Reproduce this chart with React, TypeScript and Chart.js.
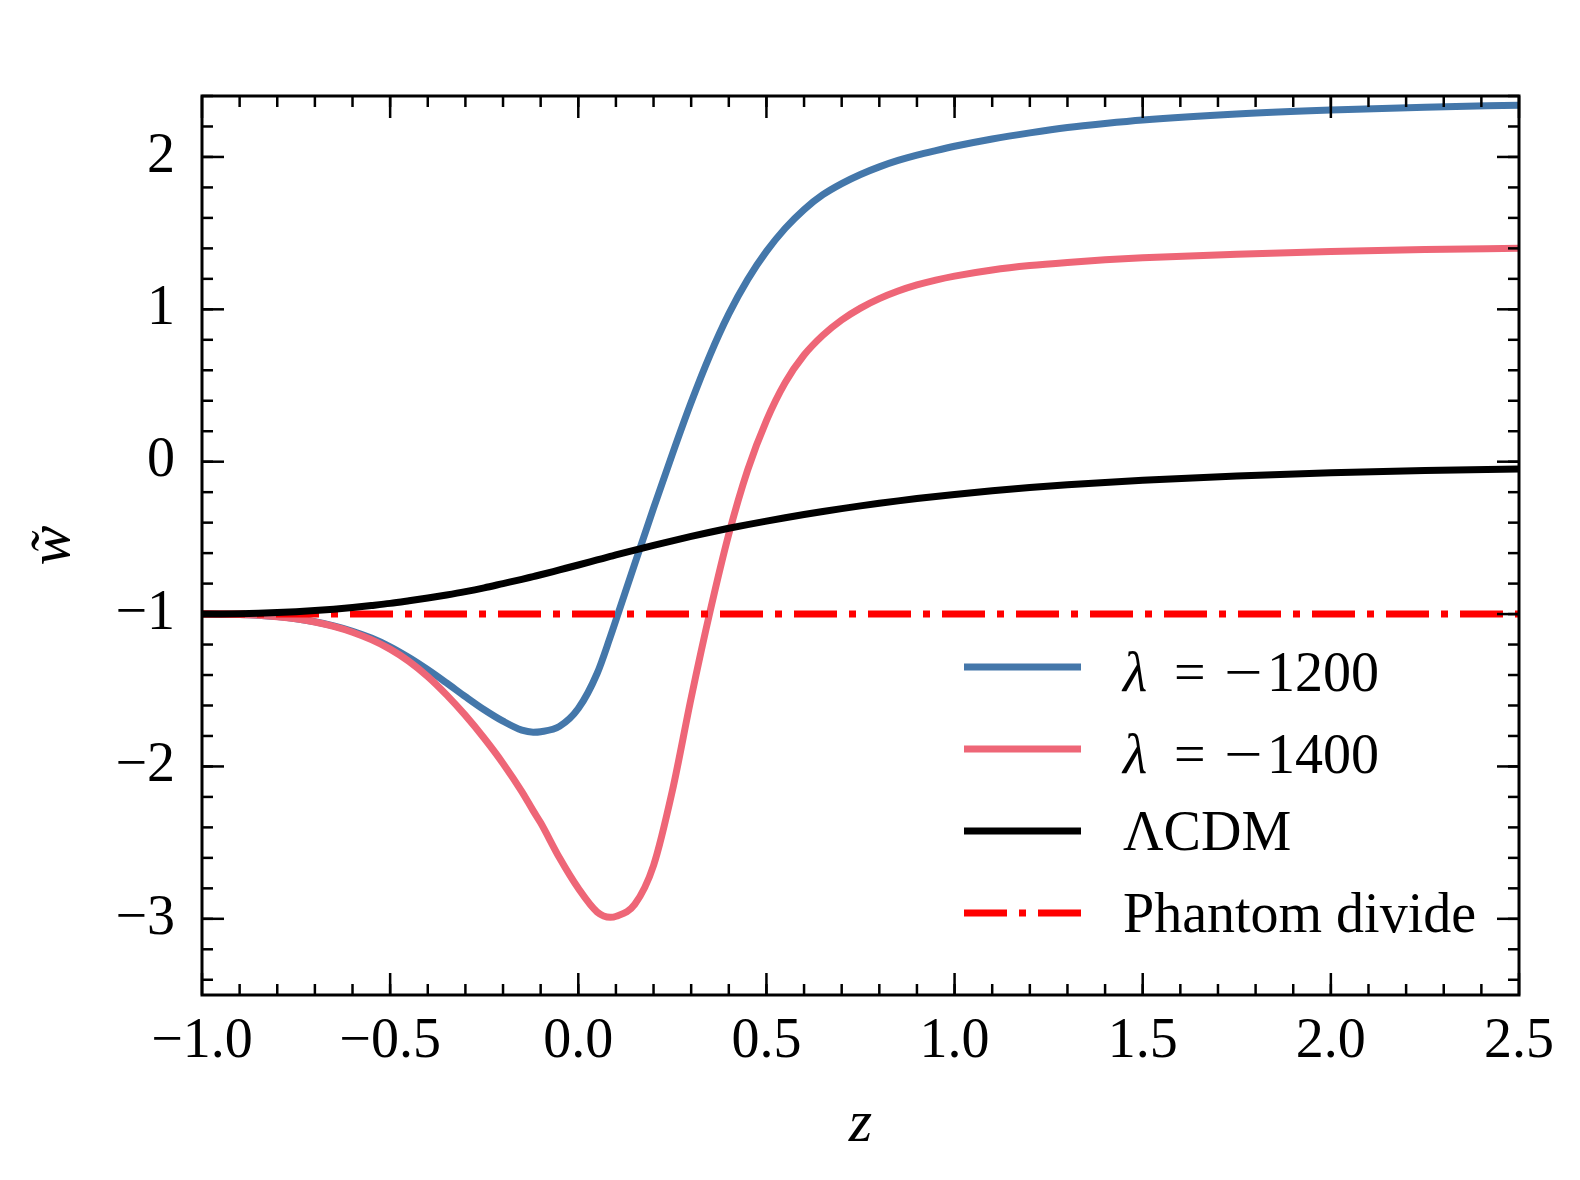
import { useEffect, useRef } from "react";
import { Chart, registerables } from "chart.js";

Chart.register(...registerables);

// redshift grid shared by the three model curves
const zValues = [
  -1.0, -0.95, -0.9, -0.85, -0.8, -0.75, -0.7, -0.65, -0.6, -0.55, -0.5, -0.45, -0.4, -0.35, -0.3, -0.25, -0.2,
  -0.15, -0.12, -0.1, -0.05, 0.0, 0.05, 0.085, 0.1, 0.15, 0.2, 0.25, 0.3, 0.35, 0.4, 0.45, 0.5, 0.55, 0.6, 0.65, 0.7,
  0.75, 0.8, 0.85, 0.9, 0.95, 1.0, 1.1, 1.2, 1.3, 1.4, 1.5, 1.75, 2.0, 2.25, 2.5,
];
const wLambda1200 = [
  -1.0, -1.0005, -1.0025, -1.0075, -1.0165, -1.0305, -1.0505, -1.0775, -1.1125, -1.1575, -1.2145, -1.285, -1.365,
  -1.452, -1.542, -1.628, -1.703, -1.762, -1.775, -1.772, -1.737, -1.62, -1.39, -1.15, -1.04, -0.67, -0.305, 0.05,
  0.39, 0.7, 0.97, 1.195, 1.38, 1.532, 1.655, 1.752, 1.825, 1.885, 1.935, 1.977, 2.012, 2.042, 2.07, 2.118, 2.158,
  2.193, 2.22, 2.243, 2.282, 2.308, 2.326, 2.34,
];
const wLambda1400 = [
  -1.0, -1.0005, -1.003, -1.008, -1.017, -1.031, -1.052, -1.081, -1.119, -1.168, -1.23, -1.31, -1.41, -1.53, -1.665,
  -1.815, -1.98, -2.165, -2.29, -2.37, -2.6, -2.8, -2.955, -2.99, -2.984, -2.905, -2.65, -2.16, -1.55, -0.985,
  -0.475, -0.055, 0.27, 0.52, 0.7, 0.83, 0.93, 1.008, 1.07, 1.12, 1.16, 1.192, 1.218, 1.258, 1.287, 1.308, 1.325,
  1.338, 1.362, 1.38, 1.392, 1.4,
];
const wLCDM = [
  -1.0, -0.9995, -0.998, -0.995, -0.99, -0.984, -0.977, -0.968, -0.957, -0.944, -0.93, -0.913, -0.895, -0.875, -0.853,
  -0.828, -0.8, -0.772, -0.754, -0.742, -0.71, -0.678, -0.645, -0.622, -0.612, -0.58, -0.549, -0.519, -0.49, -0.463,
  -0.437, -0.413, -0.39, -0.368, -0.347, -0.327, -0.308, -0.29, -0.273, -0.257, -0.242, -0.228, -0.215, -0.191,
  -0.17, -0.152, -0.136, -0.122, -0.094, -0.073, -0.058, -0.048,
];
const phantomZ = [-1.0, 2.5];
const phantomW = [-1.0, -1.0];

const xTicks = [-1.0, -0.5, 0.0, 0.5, 1.0, 1.5, 2.0, 2.5];
const yTicks = [-3, -2, -1, 0, 1, 2];
const xMinorStep = 0.1;
const yMinorStep = 0.2;

const SERIF = "'Liberation Serif', 'Times New Roman', serif";
const minus = (s: string) => s.replace("-", "\u2212");
const pts = (xs: number[], ys: number[]) => xs.map((x, i) => ({ x, y: ys[i] }));

// inward ticks on all four sides + frame
const frameTicks = {
  id: "frameTicks",
  afterDatasetsDraw(chart: any) {
    const { ctx, chartArea: a, scales } = chart;
    const sx = scales.x;
    const sy = scales.y;
    ctx.save();
    ctx.strokeStyle = "#000";
    ctx.lineCap = "butt";
    const seg = (x1: number, y1: number, x2: number, y2: number) => {
      ctx.beginPath();
      ctx.moveTo(x1, y1);
      ctx.lineTo(x2, y2);
      ctx.stroke();
    };
    const xTick = (v: number, len: number) => {
      const p = sx.getPixelForValue(v);
      seg(p, a.bottom, p, a.bottom - len);
      seg(p, a.top, p, a.top + len);
    };
    const yTick = (v: number, len: number) => {
      const p = sy.getPixelForValue(v);
      seg(a.left, p, a.left + len, p);
      seg(a.right, p, a.right - len, p);
    };
    ctx.lineWidth = 2.5;
    const nx = Math.round((sx.max - sx.min) / xMinorStep);
    for (let i = 1; i < nx; i++) xTick(sx.min + i * xMinorStep, 11);
    const ny = Math.round((sy.max - -3.4) / yMinorStep);
    for (let i = 0; i <= ny; i++) yTick(-3.4 + i * yMinorStep, 11);
    sx.ticks.forEach((t: any) => xTick(t.value, 22));
    sy.ticks.forEach((t: any) => yTick(t.value, 22));
    ctx.lineWidth = 3;
    ctx.strokeRect(a.left, a.top, a.right - a.left, a.bottom - a.top);
    ctx.restore();
  },
};

// legend in the lower right of the plot, matplotlib style (no frame)
const legendOrder = [0, 1, 2, 3];
const mathLegend = {
  id: "mathLegend",
  afterDraw(chart: any) {
    const { ctx, chartArea: a } = chart;
    const x0 = a.left + 762;
    const x1 = a.left + 879;
    const tx = a.left + 921;
    ctx.save();
    legendOrder.forEach((idx, row) => {
      const ds = chart.data.datasets[idx];
      const y = a.top + 571 + row * 82;
      ctx.strokeStyle = ds.borderColor;
      ctx.lineWidth = ds.borderWidth;
      ctx.lineCap = "butt";
      ctx.setLineDash(ds.borderDash || []);
      ctx.beginPath();
      ctx.moveTo(x0, y);
      ctx.lineTo(x1, y);
      ctx.stroke();
      ctx.setLineDash([]);
      ctx.fillStyle = "#000";
      ctx.textBaseline = "alphabetic";
      ctx.textAlign = "left";
      const label: string = ds.label;
      const m = label.match(/^λ = \u2212(.*)$/);
      if (m) {
        const base = y + 24;
        ctx.font = `italic 56px ${SERIF}`;
        ctx.fillText("λ", tx, base);
        ctx.font = `56px ${SERIF}`;
        ctx.fillText("=", tx + 51, base);
        // math minus is a little wider than the text one
        ctx.save();
        ctx.translate(tx + 101, base);
        ctx.scale(1.22, 1);
        ctx.fillText("\u2212", 0, 0);
        ctx.restore();
        ctx.fillText(m[1], tx + 144, base);
      } else {
        ctx.font = `56px ${SERIF}`;
        ctx.fillText(label, tx, y + 19);
      }
    });
    ctx.restore();
  },
};

export default function App() {
  const canvasRef = useRef<HTMLCanvasElement>(null);

  useEffect(() => {
    document.body.style.margin = "0";
    if (!canvasRef.current) return;
    const chart = new Chart(canvasRef.current, {
      type: "line",
      data: {
        datasets: [
          {
            label: "λ = \u22121200",
            data: pts(zValues, wLambda1200),
            borderColor: "#4477AA",
            borderWidth: 7,
            order: 3,
          },
          {
            label: "λ = \u22121400",
            data: pts(zValues, wLambda1400),
            borderColor: "#EE6677",
            borderWidth: 7,
            order: 2,
          },
          {
            label: "ΛCDM",
            data: pts(zValues, wLCDM),
            borderColor: "#000000",
            borderWidth: 7,
            order: 0,
          },
          {
            label: "Phantom divide",
            data: pts(phantomZ, phantomW),
            borderColor: "#FF0000",
            borderWidth: 7,
            borderDash: [43, 12, 7, 12],
            borderCapStyle: "butt",
            order: 1,
          },
        ] as any,
      },
      options: {
        animation: false,
        responsive: true,
        maintainAspectRatio: false,
        layout: { padding: { left: 0, right: 61, top: 96, bottom: 0 } },
        elements: {
          point: { radius: 0, hoverRadius: 0 },
          line: { cubicInterpolationMode: "monotone", fill: false, borderJoinStyle: "round" },
        },
        plugins: {
          legend: { display: false },
          tooltip: { enabled: false },
        },
        scales: {
          x: {
            type: "linear",
            min: -1.0,
            max: 2.5,
            grid: { display: false, drawTicks: false },
            border: { display: false },
            afterBuildTicks: (s: any) => {
              s.ticks = xTicks.map((value) => ({ value }));
            },
            afterFit: (s: any) => {
              s.height = 185;
            },
            ticks: {
              padding: 14,
              color: "#000",
              font: { family: SERIF, size: 56 },
              maxRotation: 0,
              callback: (v: any) => minus(Number(v).toFixed(1)),
            },
            title: {
              display: true,
              text: "z",
              color: "#000",
              font: { family: SERIF, size: 60, style: "italic" },
              padding: { top: 0, bottom: 19 },
            },
          },
          y: {
            type: "linear",
            min: -3.5,
            max: 2.4,
            grid: { display: false, drawTicks: false },
            border: { display: false },
            afterBuildTicks: (s: any) => {
              s.ticks = yTicks.map((value) => ({ value }));
            },
            afterFit: (s: any) => {
              s.width = 202;
            },
            ticks: {
              padding: 27,
              color: "#000",
              font: { family: SERIF, size: 56 },
              callback: (v: any) => minus(String(v)),
            },
            title: {
              display: true,
              text: "w\u0303",
              color: "#000",
              font: { family: SERIF, size: 60, style: "italic" },
              padding: { top: 17, bottom: 0 },
            },
          },
        },
      } as any,
      plugins: [frameTicks, mathLegend],
    });
    return () => chart.destroy();
  }, []);

  return (
    <div style={{ position: "absolute", left: 0, top: 0, width: 1580, height: 1180, background: "#fff" }}>
      <canvas ref={canvasRef} />
    </div>
  );
}
